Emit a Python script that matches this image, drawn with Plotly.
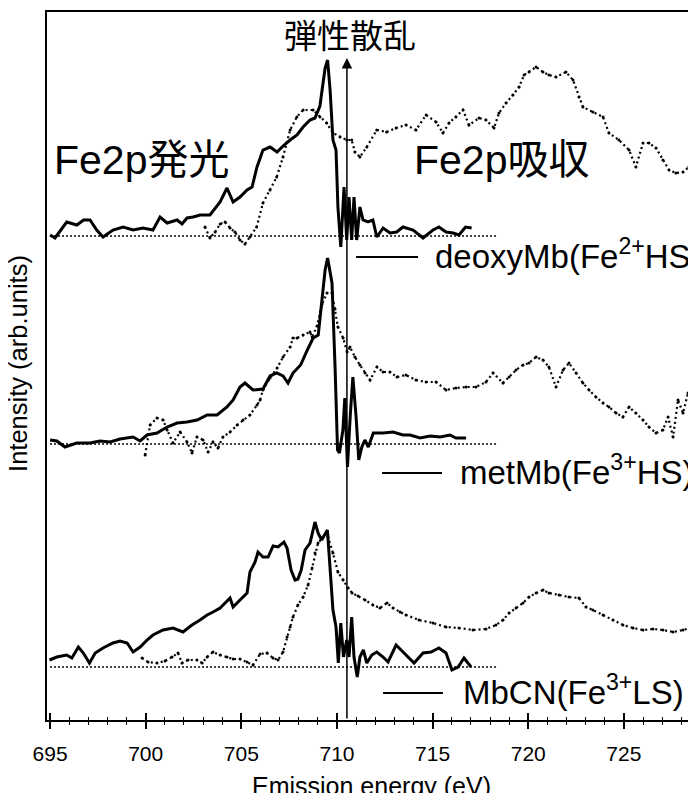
import plotly.graph_objects as go

# ---------------- data ----------------
# Offsets of each spectrum group (arb. units)
offset_deoxy = 484
offset_met = 276
offset_cn = 53

# Fe2p emission, deoxyMb (solid)
em_deoxy_x = [695.00, 695.26, 695.87, 696.40, 696.75, 697.09, 697.44, 697.77, 698.29, 698.82,
              699.34, 699.86, 700.38, 700.75, 701.12, 701.64, 701.90, 702.16, 702.48, 702.84,
              703.36, 703.89, 704.25, 704.57, 704.93, 705.30, 705.56, 705.82, 706.13, 706.50,
              706.87, 707.18, 707.55, 707.91, 708.23, 708.59, 708.85, 709.11, 709.25, 709.38,
              709.51, 709.64, 709.79, 709.95, 710.05, 710.20, 710.37, 710.51, 710.63, 710.77,
              710.89, 711.03, 711.20, 711.36, 711.62, 711.88, 712.08, 712.41, 712.77, 713.12,
              713.45, 713.98, 714.50, 715.02, 715.33, 715.70, 716.07, 716.38, 716.72, 717.04]
em_deoxy_y = [1, -2, 14, 11, 16, 16, 6, -1, 6, 9,
              6, 8, 6, 19, 13, 16, 12, 18, 19, 21,
              21, 34, 48, 34, 39, 46, 49, 69, 86, 89,
              84, 90, 96, 101, 109, 116, 118, 130, 150, 168,
              176, 146, 96, 86, 29, -11, 49, -4, 39, -4,
              39, -4, 29, 16, 14, 16, -1, 8, 3, 4,
              9, 6, -2, 6, 9, 4, 3, 1, 9, 8]

# Fe2p absorption, deoxyMb (dotted)
ab_deoxy_x = [703.10, 703.36, 703.63, 703.89, 704.15, 704.41, 704.67, 704.93, 705.19, 705.45,
              705.80, 706.13, 706.50, 706.85, 707.18, 707.55, 707.90, 708.23, 708.75, 709.11,
              709.46, 709.79, 710.16, 710.51, 710.77, 710.94, 711.20, 711.56, 712.08, 712.60,
              713.09, 713.61, 714.13, 714.66, 715.18, 715.54, 715.86, 716.22, 716.59, 716.90,
              717.43, 717.79, 718.21, 718.47, 718.84, 719.20, 719.52, 719.78, 720.04, 720.41,
              720.77, 721.08, 721.45, 721.97, 722.34, 722.65, 722.86, 723.38, 723.91, 724.22,
              724.74, 725.27, 725.63, 726.00, 726.31, 726.68, 727.04, 727.36, 727.72, 728.09,
              728.40, 728.66]
ab_deoxy_y = [9, -2, 4, 12, 14, 8, 4, -4, -8, -1,
              9, 33, 46, 59, 79, 106, 119, 126, 126, 119,
              113, 103, 99, 96, 96, 84, 79, 89, 106, 104,
              108, 111, 106, 121, 114, 103, 113, 119, 126, 111,
              118, 116, 108, 123, 133, 141, 149, 161, 164, 169,
              164, 161, 159, 164, 156, 139, 129, 124, 119, 103,
              96, 86, 69, 93, 93, 88, 76, 66, 63, 64,
              69, 79]

# Fe2p emission, metMb (solid)
em_met_x = [695.00, 695.35, 695.78, 696.40, 697.09, 697.61, 698.14, 698.66, 699.34, 699.71,
            700.07, 700.59, 701.12, 701.64, 702.16, 702.69, 703.21, 703.73, 704.25, 704.57,
            704.93, 705.19, 705.61, 706.13, 706.50, 706.85, 707.18, 707.44, 707.70, 708.10,
            708.45, 708.75, 709.02, 709.20, 709.38, 709.51, 709.74, 709.90, 710.03, 710.13,
            710.31, 710.41, 710.55, 710.69, 710.83, 711.00, 711.14, 711.30, 711.46, 711.64,
            711.90, 712.41, 712.93, 713.45, 713.82, 714.34, 714.87, 715.39, 715.91, 716.22,
            716.75]
em_met_y = [4, 3, -3, 1, 1, 3, 2, 5, 7, 3,
            9, 11, 17, 21, 22, 24, 29, 29, 37, 44,
            57, 61, 54, 55, 68, 71, 68, 61, 71, 79,
            94, 106, 109, 144, 174, 186, 161, 77, -6, -9,
            14, 46, -23, 27, 67, 27, -16, -3, 4, -3,
            11, 11, 12, 9, 9, 6, 8, 7, 9, 6,
            6]

# Fe2p absorption, metMb (dotted)
ab_met_x = [699.97, 700.23, 700.59, 700.91, 701.12, 701.43, 701.80, 702.16, 702.42, 702.68,
            703.00, 703.26, 703.52, 703.78, 704.04, 704.41, 704.78, 705.09, 705.45, 705.82,
            705.98, 706.13, 706.50, 706.87, 707.18, 707.55, 707.70, 707.91, 708.23, 708.59,
            708.70, 708.96, 709.22, 709.48, 709.74, 709.90, 710.05, 710.32, 710.53, 710.68,
            710.94, 711.20, 711.47, 711.73, 712.09, 712.41, 712.77, 713.14, 713.61, 714.13,
            714.66, 715.18, 715.70, 716.22, 716.75, 717.27, 717.79, 718.16, 718.68, 719.00,
            719.36, 719.73, 720.04, 720.41, 720.77, 721.08, 721.45, 721.82, 722.13, 722.50,
            722.86, 723.18, 723.54, 723.91, 724.22, 724.59, 724.95, 725.27, 725.63, 726.00,
            726.31, 726.68, 727.04, 727.31, 727.57, 727.83, 728.09, 728.35, 728.66]
ab_met_y = [-11, 19, 26, 24, 14, 1, 12, 2, -9, 7,
            4, -8, 2, -4, 7, 12, 19, 24, 29, 39,
            44, 54, 66, 76, 87, 97, 106, 106, 109, 112,
            107, 118, 140, 151, 151, 135, 117, 106, 92, 97,
            87, 79, 71, 64, 77, 72, 72, 67, 69, 64,
            62, 62, 54, 56, 57, 57, 62, 71, 61, 67,
            74, 79, 81, 87, 84, 77, 57, 74, 81, 71,
            61, 54, 47, 41, 37, 31, 27, 37, 31, 24,
            17, 11, 14, 27, 7, 44, 31, 51, 37]

# Fe2p emission, MbCN (solid)
em_cn_x = [694.97, 695.35, 695.87, 696.14, 696.48, 696.74, 697.06, 697.36, 697.77, 698.29,
           698.66, 699.03, 699.34, 699.71, 700.07, 700.38, 700.91, 701.43, 701.95, 702.42,
           702.84, 703.21, 703.52, 703.89, 704.41, 704.57, 704.93, 705.30, 705.45, 705.72,
           705.87, 706.13, 706.40, 706.66, 706.92, 707.23, 707.39, 707.60, 707.81, 707.96,
           708.13, 708.33, 708.59, 708.85, 709.01, 709.20, 709.50, 709.64, 709.79, 709.95,
           710.07, 710.20, 710.34, 710.51, 710.63, 710.77, 710.89, 711.06, 711.20, 711.38,
           711.56, 711.82, 712.08, 712.41, 712.67, 713.09, 713.51, 714.03, 714.50, 714.92,
           715.33, 715.70, 716.01, 716.33, 716.64, 717.01]
em_cn_y = [7, 10, 12, 9, 20, 14, 4, 14, 19, 24,
           26, 24, 15, 20, 27, 32, 37, 39, 35, 42,
           47, 52, 55, 59, 69, 60, 67, 74, 95, 105,
           115, 110, 110, 121, 120, 125, 119, 97, 87, 88,
           97, 117, 124, 145, 134, 127, 137, 100, 57, 40,
           4, 44, 10, 27, 10, 50, 10, -10, 10, 17,
           4, 12, 15, 10, 5, 22, 14, 4, 14, 15,
           19, 14, -3, 0, 9, 0]

# Fe2p absorption, MbCN (dotted)
ab_cn_x = [699.81, 700.12, 700.59, 701.01, 701.38, 701.69, 701.90, 702.21, 702.68, 702.95,
           703.21, 703.52, 703.89, 704.25, 704.57, 704.93, 705.30, 705.61, 705.98, 706.34,
           706.66, 706.92, 707.18, 707.39, 707.55, 707.70, 707.96, 708.23, 708.49, 708.70,
           708.85, 709.01, 709.27, 709.53, 709.79, 710.05, 710.32, 710.58, 710.79, 711.10,
           711.47, 711.88, 712.25, 712.62, 712.93, 713.30, 713.61, 714.29, 715.02, 715.70,
           716.38, 717.11, 717.79, 718.31, 718.68, 719.00, 719.36, 719.73, 720.04, 720.41,
           720.77, 721.08, 721.61, 722.13, 722.65, 723.02, 723.38, 723.91, 724.43, 724.95,
           725.48, 726.00, 726.52, 727.04, 727.57, 728.09, 728.66]
ab_cn_y = [9, 5, 4, 6, 10, 14, 4, 7, 7, 4,
           10, 15, 12, 10, 8, 8, 5, 2, 13, 14,
           9, 7, 15, 30, 40, 50, 62, 70, 82, 99,
           114, 124, 130, 130, 114, 95, 87, 79, 74, 71,
           67, 62, 59, 64, 59, 55, 52, 47, 44, 40,
           39, 37, 38, 42, 47, 54, 59, 64, 70, 74,
           77, 74, 72, 70, 69, 60, 57, 52, 47, 42,
           39, 37, 38, 37, 35, 37, 40]

# Baselines (dotted horizontal references)
baseline_x = [695.0, 718.4]

# Elastic scattering energy (arrow)
elastic_ev = 710.52

# Labels
x_tickvals = [695, 700, 705, 710, 715, 720, 725]
label_deoxy = "deoxyMb(Fe<sup>2+</sup>HS)"
label_met = "metMb(Fe<sup>3+</sup>HS)"
label_cn = "MbCN(Fe<sup>3+</sup>LS)"

# ---------------- figure ----------------
FONT = "Liberation Sans, Arial, Noto Sans CJK JP, sans-serif"
fig = go.Figure()

groups = [
    (offset_deoxy, em_deoxy_x, em_deoxy_y, ab_deoxy_x, ab_deoxy_y),
    (offset_met, em_met_x, em_met_y, ab_met_x, ab_met_y),
    (offset_cn, em_cn_x, em_cn_y, ab_cn_x, ab_cn_y),
]
for off, ex, ey, ax_, ay_ in groups:
    fig.add_trace(go.Scatter(x=ax_, y=[off + v for v in ay_], mode="lines+markers",
                             line=dict(color="black", width=2.2, dash="2px,3px"),
                             marker=dict(color="black", size=3),
                             showlegend=False, hoverinfo="skip"))
    fig.add_trace(go.Scatter(x=baseline_x, y=[off, off], mode="lines", xaxis="x2",
                             line=dict(color="black", width=1.6, dash="2px,2px"),
                             showlegend=False, hoverinfo="skip"))
    fig.add_trace(go.Scatter(x=ex, y=[off + v for v in ey], mode="lines",
                             line=dict(color="black", width=3),
                             showlegend=False, hoverinfo="skip"))

xr = [694.84, 728.77]
fig.update_layout(
    width=688, height=785,
    margin=dict(l=39, r=0, t=4, b=73, autoexpand=False),
    paper_bgcolor="white", plot_bgcolor="white",
    font=dict(family=FONT, color="black"),
    showlegend=False,
    xaxis=dict(range=xr, showgrid=False, zeroline=False, showline=True, linecolor="black",
               linewidth=1.5, mirror=True, ticks="outside", ticklen=7, tickwidth=1.5,
               tickcolor="black", tickvals=x_tickvals, tickfont=dict(size=21, family=FONT),
               ticklabelstandoff=7,
               minor=dict(dtick=1, ticks="outside", ticklen=3.5, tickwidth=1.3, tickcolor="black"),
               automargin=False, fixedrange=True),
    xaxis2=dict(range=xr, overlaying="x", side="bottom", anchor="y", showgrid=False,
                zeroline=False, showline=False, ticks="inside", ticklen=7, tickwidth=1.5,
                tickcolor="black", tickvals=x_tickvals, showticklabels=False, automargin=False,
                minor=dict(dtick=1, ticks="inside", ticklen=3.5, tickwidth=1.3, tickcolor="black")),
    yaxis=dict(range=[0, 708], showgrid=False, zeroline=False, showline=True, linecolor="black",
               linewidth=1.5, ticks="", showticklabels=False, automargin=False, fixedrange=True),
)

ann = []
# axis titles
ann.append(dict(text="Emission energy (eV)", xref="paper", yref="paper", x=0.5, y=-0.093,
                xanchor="center", yanchor="middle", showarrow=False, font=dict(size=25)))
ann.append(dict(text="Intensity (arb.units)", xref="paper", yref="paper", x=-0.0456, y=0.5035,
                xanchor="center", yanchor="middle", textangle=-90, showarrow=False,
                font=dict(size=25.5)))
# elastic arrow
ann.append(dict(x=elastic_ev, y=662, ax=elastic_ev, ay=0, xref="x", yref="y", axref="x", ayref="y",
                text="", showarrow=True, arrowhead=2, arrowsize=1.4, arrowwidth=1.5,
                arrowcolor="black"))
ann.append(dict(text="弾性散乱", x=710.7, y=684, xref="x", yref="y", showarrow=False,
                xanchor="center", yanchor="middle", font=dict(size=33)))
ann.append(dict(text="Fe2p発光", x=695.1, y=560, xref="x", yref="y", showarrow=False,
                xanchor="left", yanchor="middle", font=dict(size=41)))
ann.append(dict(text="Fe2p吸収", x=713.9, y=560, xref="x", yref="y", showarrow=False,
                xanchor="left", yanchor="middle", font=dict(size=41)))
# legend-like labels
for (x0, x1, ly, tx, txt) in [(711.0, 714.24, 463, 715.02, label_deoxy),
                              (712.36, 715.49, 247, 716.33, label_met),
                              (712.41, 715.54, 27, 716.48, label_cn)]:
    fig.add_shape(type="line", x0=x0, x1=x1, y0=ly, y1=ly, xref="x", yref="y",
                  line=dict(color="black", width=2))
    ann.append(dict(text=txt, x=tx, y=ly + 3, xref="x", yref="y", showarrow=False,
                    xanchor="left", yanchor="middle", font=dict(size=33)))
fig.update_layout(annotations=ann)

fig.write_html("out.html")
